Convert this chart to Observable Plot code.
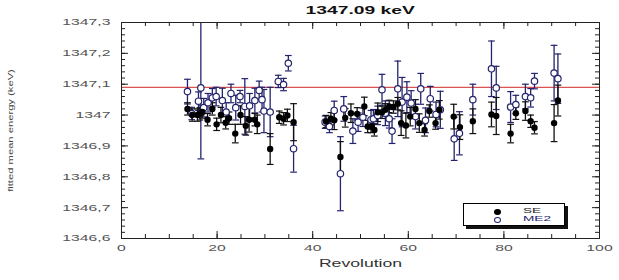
<!DOCTYPE html>
<html><head><meta charset="utf-8">
<script src="https://cdn.jsdelivr.net/npm/d3@7"></script>
<script src="https://cdn.jsdelivr.net/npm/@observablehq/plot@0.6"></script>
<style>
body{margin:0;background:#fff;font-family:"Liberation Sans",Arial,sans-serif;}
#wrap{position:relative;width:619px;height:280px;overflow:hidden;}
#title{height:18px;padding-left:121px;width:478px;text-align:center;font-weight:bold;font-size:11px;line-height:20px;color:#111;}
#title span{display:inline-block;transform:scaleX(1.75);}
#legend{position:absolute;left:463px;top:203px;width:100px;height:21px;border:1px solid #000;box-shadow:3px 3px 0 #111;background:#fff;}
#legend .dot{position:absolute;border-radius:50%;}
#legend .lab{position:absolute;font-size:8px;line-height:8px;transform:scaleX(1.7);transform-origin:left center;}
</style></head>
<body>
<div id="wrap">
<div id="title"><span></span></div>
<div id="chart"></div>
<div id="legend"></div>
</div>
<script>
const titleText = "1347.09 keV";
const xLabel = "Revolution";
const yLabel = "fitted mean energy (keV)";
const seriesNames = ["SE", "ME2"];
const refLine = 1347.09;
const xMajor = [0, 20, 40, 60, 80, 100];
const yMajor = [1346.6, 1346.7, 1346.8, 1346.9, 1347.0, 1347.1, 1347.2, 1347.3];

// SE (filled)
const seRev = [13.8,14.8,15.9,16.4,16.9,18.0,19.0,19.9,20.8,21.8,22.5,23.8,24.9,26.0,26.7,27.9,28.4,31.1,33.0,33.9,34.7,36.0,
  42.8,43.8,44.5,45.8,46.8,48.0,49.3,50.8,51.5,52.2,52.9,53.6,54.5,55.2,56.0,56.9,57.8,58.5,59.5,60.4,61.5,62.3,63.4,64.4,65.7,66.5,69.5,70.8,73.5,77.4,78.4,81.4,82.5,84.5,85.6,86.4,90.5,91.3];
const seVal = [1347.020,1347.000,1347.000,1347.004,1347.010,1346.985,1347.020,1346.970,1347.000,1346.975,1346.990,1346.940,1347.000,1346.965,1346.985,1346.985,1346.970,1346.890,1346.993,1346.988,1346.999,1346.977,
  1346.979,1346.988,1346.983,1346.864,1346.991,1347.006,1347.004,1347.028,1346.963,1346.963,1346.952,1347.009,1347.009,1347.017,1347.028,1347.026,1347.037,1346.974,1346.966,1346.995,1347.020,1346.974,1346.952,1347.013,1346.974,1347.017,1346.995,1346.961,1346.980,1347.002,1346.997,1346.940,1347.006,1347.013,1346.980,1346.959,1346.974,1347.047];
const seErr = [0.02,0.02,0.02,0.02,0.02,0.02,0.02,0.02,0.025,0.02,0.02,0.03,0.03,0.03,0.04,0.02,0.03,0.05,0.02,0.02,0.02,0.06,
  0.02,0.02,0.03,0.05,0.03,0.03,0.02,0.03,0.02,0.02,0.02,0.03,0.02,0.02,0.02,0.02,0.02,0.04,0.04,0.03,0.03,0.03,0.02,0.02,0.02,0.03,0.04,0.04,0.04,0.04,0.06,0.03,0.02,0.03,0.02,0.02,0.06,0.05];

// ME2 (open)
const meRev = [13.8,14.7,16.1,16.6,17.2,18.1,19.0,19.8,21.1,21.9,22.9,23.9,24.8,25.8,26.8,27.9,28.8,29.4,29.8,31.1,32.8,33.9,34.9,36.0,
  42.6,43.5,44.5,45.8,46.5,48.4,49.5,50.5,52.2,52.7,53.6,54.5,55.2,56.0,56.6,57.8,58.7,59.7,60.6,61.5,62.6,63.6,64.6,65.8,66.7,69.6,70.7,73.5,77.4,78.4,81.4,82.5,84.5,85.6,86.4,90.5,91.3];
const meVal = [1347.076,1347.005,1347.045,1347.088,1347.024,1347.040,1347.056,1347.060,1347.047,1347.010,1347.070,1347.024,1347.060,1347.028,1347.030,1347.047,1347.080,1347.050,1347.013,1347.010,1347.109,1347.099,1347.168,1346.891,
  1346.977,1346.963,1347.015,1346.810,1347.020,1346.948,1346.977,1346.993,1346.985,1346.988,1346.999,1347.082,1347.006,1346.988,1346.948,1347.085,1347.042,1347.058,1347.039,1346.995,1347.085,1346.983,1347.053,1347.002,1347.017,1346.923,1346.941,1347.050,1347.150,1347.088,1347.026,1347.034,1347.060,1347.056,1347.110,1347.136,1347.118];
const meErr = [0.04,0.02,0.03,0.23,0.03,0.03,0.03,0.03,0.04,0.03,0.03,0.04,0.02,0.09,0.04,0.04,0.03,0.04,0.07,0.08,0.02,0.02,0.025,0.076,
  0.02,0.02,0.03,0.12,0.04,0.04,0.03,0.03,0.03,0.03,0.03,0.05,0.04,0.03,0.04,0.09,0.08,0.05,0.04,0.04,0.05,0.04,0.04,0.04,0.06,0.07,0.07,0.05,0.09,0.07,0.05,0.03,0.04,0.03,0.025,0.09,0.08];

const navy = "#24246e";
const se = seRev.map((r, i) => ({r, v: seVal[i], e: seErr[i]}));
const me = meRev.map((r, i) => ({r, v: meVal[i], e: meErr[i]}));
const xMinor = d3.range(0, 101, 5);
const yMinor = d3.range(0, 36).map(i => 1346.6 + i * 0.02);
const W = 478, H = 216;
const fmt = v => String(Math.round(v * 10) / 10).replace(".", ",");

function bars(data, color) {
  return [
    Plot.ruleX(data, {x: "r", y1: d => d.v - d.e, y2: d => d.v + d.e, stroke: color, strokeWidth: 1.3, clip: true}),
    Plot.link(data, {x1: d => d.r - 0.7, x2: d => d.r + 0.7, y1: d => d.v + d.e, y2: d => d.v + d.e, stroke: color, strokeWidth: 1.2, clip: true}),
    Plot.link(data, {x1: d => d.r - 0.7, x2: d => d.r + 0.7, y1: d => d.v - d.e, y2: d => d.v - d.e, stroke: color, strokeWidth: 1.2, clip: true})
  ];
}

const chart = Plot.plot({
  width: 619, height: 262,
  marginLeft: 121, marginRight: 20, marginTop: 4, marginBottom: 42,
  x: {domain: [0, 100]},
  y: {domain: [1346.6, 1347.3]},
  style: {fontFamily: "Liberation Sans, Arial, sans-serif", background: "#fff"},
  marks: [
    Plot.ruleY([refLine], {stroke: "#d02828", strokeWidth: 1}),
    ...bars(me, navy),
    ...bars(se, "#111"),
    Plot.dot(me, {x: "r", y: "v", r: 3.2, fill: "white", stroke: navy, strokeWidth: 1.2}),
    Plot.dot(se, {x: "r", y: "v", r: 3.2, fill: "#000"}),
    Plot.frame({stroke: "#222"}),
    Plot.tickX(xMinor, {insetTop: H - 4, stroke: "#222"}),
    Plot.tickX(xMinor, {insetBottom: H - 4, stroke: "#222"}),
    Plot.tickX(xMajor, {insetTop: H - 7, stroke: "#222"}),
    Plot.tickX(xMajor, {insetBottom: H - 7, stroke: "#222"}),
    Plot.tickY(yMinor, {insetRight: W - 4, stroke: "#222"}),
    Plot.tickY(yMinor, {insetLeft: W - 4, stroke: "#222"}),
    Plot.tickY(yMajor, {insetRight: W - 7, stroke: "#222"}),
    Plot.tickY(yMajor, {insetLeft: W - 7, stroke: "#222"}),
    Plot.axisX(xMajor, {tickSize: 0, tickPadding: 6, fontSize: 9, color: "#555", label: null}),
    Plot.axisY(yMajor, {tickSize: 0, tickPadding: 11, fontSize: 9, color: "#555", tickFormat: fmt, label: null}),
    Plot.text([xLabel], {frameAnchor: "bottom", dy: 28, fontSize: 11, fill: "#333"}),
    Plot.text([yLabel], {frameAnchor: "left", textAnchor: "middle", dx: -111, rotate: -90, fontSize: 8, fill: "#444"})
  ]
});
document.getElementById("chart").append(chart);
document.querySelector("#title span").textContent = titleText;

// stretch text horizontally like the reference rendering
chart.querySelectorAll("text").forEach(t => {
  let f = 1.75;
  if (t.textContent === xLabel) f = 1.6;
  else if (t.textContent === yLabel) f = 1.4;
  const n = t.getComputedTextLength();
  if (n > 0) {
    t.setAttribute("textLength", (n * f).toFixed(1));
    t.setAttribute("lengthAdjust", "spacingAndGlyphs");
  }
});

// legend
const lg = document.getElementById("legend");
const rows = [{name: seriesNames[0], fill: "#000", stroke: "#000", col: "#222"}, {name: seriesNames[1], fill: "#fff", stroke: navy, col: navy}];
rows.forEach((s, i) => {
  const d = document.createElement("div");
  d.className = "dot";
  d.style.left = "30px"; d.style.top = (5 + i * 8) + "px";
  d.style.background = s.fill; d.style.border = "1px solid " + s.stroke;
  d.style.width = "5px"; d.style.height = "4px";
  lg.append(d);
  const l = document.createElement("div");
  l.className = "lab";
  l.style.left = "59px"; l.style.top = (3 + i * 8) + "px";
  l.style.color = s.col;
  l.textContent = s.name;
  lg.append(l);
});
</script>
</body></html>
